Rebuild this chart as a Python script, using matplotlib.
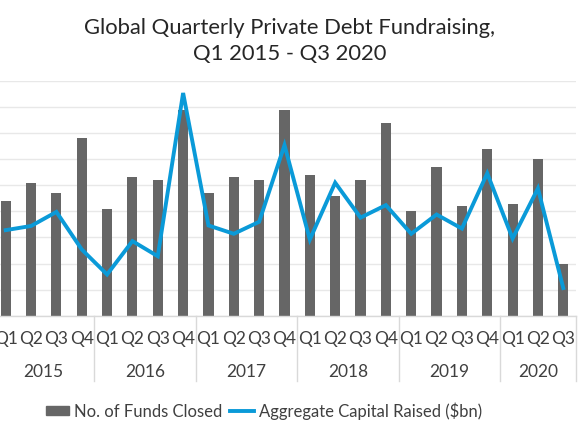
import matplotlib.pyplot as plt
import matplotlib.transforms as mtransforms
from matplotlib.patches import Patch
from matplotlib.lines import Line2D

plt.rcParams['font.family'] = ['Lato', 'DejaVu Sans']

years = ['2015', '2016', '2017', '2018', '2019', '2020']
quarters = ['Q1', 'Q2', 'Q3', 'Q4'] * 5 + ['Q1', 'Q2', 'Q3']
funds_closed = [44, 51, 47, 68, 41, 53, 52, 79, 47, 53, 52, 79,
                54, 46, 52, 74, 40, 57, 42, 64, 43, 60, 20]
capital_bn = [16.4, 17.2, 19.9, 12.7, 7.9, 14.3, 11.4, 42.7, 17.3, 15.7, 18.0, 32.7,
              14.6, 25.5, 18.8, 21.2, 15.7, 19.4, 16.7, 27.3, 14.8, 24.4, 5.3]

bar_color = '#666666'
line_color = '#0a9ad8'
text_color = '#404040'

fig = plt.figure(figsize=(5.8, 4.35), dpi=100)
ax = fig.add_axes([-0.012, 0.272, 1.005, 0.5395])
x = list(range(len(funds_closed)))

ax.bar(x, funds_closed, width=0.4, color=bar_color, zorder=2)
ax.set_xlim(-0.5, len(x) - 0.5)
ax.set_ylim(0, 90)
ax.set_yticks(range(0, 91, 10))
ax.yaxis.grid(True, color='#e8e8e8', lw=1.0, zorder=0)
ax.tick_params(axis='y', left=False, labelleft=False)
for s in ['top', 'left', 'right']:
    ax.spines[s].set_visible(False)
ax.spines['bottom'].set_color('#d9d9d9')
ax.spines['bottom'].set_linewidth(1.0)
ax.spines['bottom'].set_zorder(3)

ax.set_xticks(x)
ax.set_xticklabels(quarters, fontsize=12.5, color=text_color)
ax.tick_params(axis='x', length=0, pad=10)

ax2 = ax.twinx()
ax2.plot(x, capital_bn, color=line_color, lw=2.8, zorder=4, solid_joinstyle='miter')
ax2.set_ylim(0, 45)
ax2.axis('off')

trans = mtransforms.blended_transform_factory(ax.transData, ax.transAxes)
for i, yr in enumerate(years):
    start = i * 4
    end = min(start + 3, len(x) - 1)
    ax.text((start + end) / 2, -0.235, yr, transform=trans, ha='center', va='center',
            fontsize=12.5, color=text_color)
    ax.plot([end + 0.5, end + 0.5], [0, -0.28], transform=trans, color='#d9d9d9',
            lw=1.0, clip_on=False)

fig.text(0.5, 0.906, 'Global Quarterly Private Debt Fundraising,\nQ1 2015 - Q3 2020',
         ha='center', va='center', fontsize=15.8, color='#262626', linespacing=1.38)

handles = [Patch(color=bar_color, label='No. of Funds Closed'),
           Line2D([0], [0], color=line_color, lw=2.8, label='Aggregate Capital Raised ($bn)')]
leg = fig.legend(handles=handles, loc='center', bbox_to_anchor=(0.455, 0.054), ncol=2,
                 frameon=False, fontsize=12, handlelength=1.4, handletextpad=0.3,
                 columnspacing=0.45, handleheight=0.5)
for t in leg.get_texts():
    t.set_color(text_color)

fig.savefig('out.png', dpi=100)
